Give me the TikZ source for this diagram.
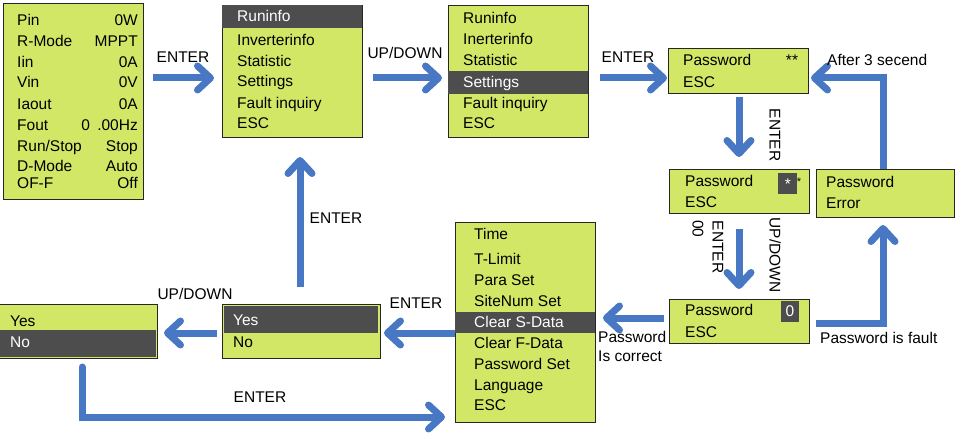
\documentclass[tikz,border=0pt]{standalone}
\usepackage{fontspec}
\setmainfont{Liberation Sans}
\usetikzlibrary{arrows.meta,calc}
\definecolor{lcd}{HTML}{D3E766}
\definecolor{darkband}{HTML}{4D4D4D}
\definecolor{arrblue}{HTML}{4878C4}
\tikzset{
  box/.style={draw=black!85, line width=0.8pt, fill=lcd, inner sep=0pt, outer sep=0pt, anchor=north west},
  txt/.style={anchor=west, inner sep=0pt, font=\fontsize{15.5}{18}\selectfont, text height=11pt, text depth=0pt},
  rtxt/.style={txt, anchor=east},
  lbl/.style={inner sep=0pt, font=\fontsize{15.5}{18}\selectfont, text height=11pt, text depth=0pt},
  wtxt/.style={txt, text=white},
  band/.style={fill=darkband},
  arr/.style={draw=arrblue, line width=7pt, -{Straight Barb[length=13pt,width=24pt,round]}}
}
\begin{document}
\begin{tikzpicture}[x=1pt,y=-1pt]
\useasboundingbox (0,0) rectangle (955,438);
% ---------- boxes ----------
\node[box, minimum width=140, minimum height=196] (b1) at (3,3) {};
\node[box, minimum width=140, minimum height=132] (b2) at (222,5) {};
\node[box, minimum width=140, minimum height=132] (b3) at (448,5) {};
\node[box, minimum width=140, minimum height=45] (b4) at (668,48) {};
\node[box, minimum width=140, minimum height=44] (b5) at (669,169) {};
\node[box, minimum width=138, minimum height=48] (b6) at (816,169) {};
\node[box, minimum width=140, minimum height=44] (b7) at (669,299) {};
\node[box, minimum width=140, minimum height=200] (b8) at (455,222) {};
\node[box, minimum width=158, minimum height=54] (b9) at (222,304) {};
\node[box, minimum width=159, minimum height=54] (b10) at (-2,304) {};
% ---------- bands ----------
\fill[band] (b2.north west) rectangle (b2.east |- 0,28);
\fill[band] (448,71) rectangle (588,94);
\fill[band] (455,312) rectangle (595,333);
\fill[band] (224,306) rectangle (378,333);
\fill[band] (-2,330) rectangle (156,357);
\fill[band] (778,173) rectangle (797,194);
\fill[band] (781,301) rectangle (799,322);
% ---------- box 1 ----------
\node[txt] (p1) at (17,20) {Pin};      \node[rtxt] (v1) at (138,20) {0W};
\node[txt] (p2) at (17,41) {R-Mode};   \node[rtxt] (v2) at (138,41) {MPPT};
\node[txt] (p3) at (17,62) {Iin};      \node[rtxt] (v3) at (138,62) {0A};
\node[txt] (p4) at (17,82) {Vin};      \node[rtxt] (v4) at (138,82) {0V};
\node[txt] (p5) at (17,104) {Iaout};   \node[rtxt] (v5) at (138,104) {0A};
\node[txt] (p6) at (17,125) {Fout};    \node[rtxt] (v6) at (138,125) {0\hspace{3pt} .00Hz};
\node[txt] (p7) at (17,146) {Run/Stop};\node[rtxt] (v7) at (138,146) {Stop};
\node[txt] (p8) at (17,166) {D-Mode};  \node[rtxt] (v8) at (138,166) {Auto};
\node[txt] (p9) at (17,183) {OF-F};    \node[rtxt] (v9) at (138,183) {Off};
% ---------- box 2 ----------
\node[wtxt] (m1) at (237,16) {Runinfo};
\node[txt] (m2) at (237,40) {Inverterinfo};
\node[txt] (m3) at (237,61) {Statistic};
\node[txt] (m4) at (237,81) {Settings};
\node[txt] (m5) at (237,103) {Fault inquiry};
\node[txt] (m6) at (237,123) {ESC};
% ---------- box 3 ----------
\node[txt] (n1) at (463,18) {Runinfo};
\node[txt] (n2) at (463,39) {Inerterinfo};
\node[txt] (n3) at (463,60) {Statistic};
\node[wtxt] (n4) at (463,82) {Settings};
\node[txt] (n5) at (463,103) {Fault inquiry};
\node[txt] (n6) at (463,123) {ESC};
% ---------- box 4 ----------
\node[txt] (q1) at (683,60) {Password};
\node[txt] (q2) at (683,82) {ESC};
\node[lbl] (q3) at (792,60) {**};
% ---------- box 5 ----------
\node[txt] (r1) at (685,181) {Password};
\node[txt] (r2) at (685,202) {ESC};
\node[lbl, text=white] (r3) at (788,184) {*};
\node[lbl, font=\fontsize{11}{12}\selectfont] (r4) at (799,180) {*};
% ---------- box 6 ----------
\node[txt] (s1) at (826,182) {Password};
\node[txt] (s2) at (826,203) {Error};
% ---------- box 7 ----------
\node[txt] (t1) at (685,310) {Password};
\node[txt] (t2) at (685,332) {ESC};
\node[lbl, text=white] (t3) at (790,311) {0};
% ---------- box 8 ----------
\node[txt] (u1) at (474,234) {Time};
\node[txt] (u2) at (474,259) {T-Limit};
\node[txt] (u3) at (474,280) {Para Set};
\node[txt] (u4) at (474,301) {SiteNum Set};
\node[wtxt] (u5) at (474,322) {Clear S-Data};
\node[txt] (u6) at (474,343) {Clear F-Data};
\node[txt] (u7) at (474,364) {Password Set};
\node[txt] (u8) at (474,385) {Language};
\node[txt] (u9) at (474,405) {ESC};
% ---------- box 9 ----------
\node[wtxt] (w1) at (233,320) {Yes};
\node[txt] (w2) at (233,342) {No};
% ---------- box 10 ----------
\node[txt] (x1) at (10,321) {Yes};
\node[wtxt] (x2) at (10,342) {No};
% ---------- arrows ----------
\draw[arr, shorten <=10pt, shorten >=8pt] (b1.east |- 0,78) -- (b2.west |- 0,78);
\draw[arr, shorten <=11pt, shorten >=6pt] (b2.east |- 0,78) -- (b3.west |- 0,78);
\draw[arr, shorten <=12pt, shorten >=1pt] (b3.east |- 0,78) -- (b4.west |- 0,78);
\draw[arr, shorten <=4pt, shorten >=12pt] (739,0 |- b4.south) -- (739,0 |- b5.north);
\draw[arr, shorten <=16pt, shorten >=10pt] (739,0 |- b5.south) -- (739,0 |- b7.north);
\draw[arr, shorten <=5pt, shorten >=8pt] (b7.west |- 0,318) -- (b8.east |- 0,318);
\draw[arr] ($(b7.east |- 0,323)+(7,0)$) -| ($(883,0 |- b6.south)+(0,8)$);
\draw[arr] (883,0 |- b6.north) |- ($(b4.east |- 0,78)+(3,0)$);
\draw[arr, shorten >=4pt] (b8.west |- 0,333) -- (b9.east |- 0,333);
\draw[arr, shorten <=5pt, shorten >=7pt] (b9.west |- 0,333) -- (b10.east |- 0,333);
\draw[arr, line cap=round] ($(82,0 |- b10.south)+(0,9)$) |- ($(b8.west |- 0,417)+(-10,0)$);
\draw[arr] ($(300,0 |- b9.north)+(0,-17)$) -- ($(300,0 |- b2.south)+(0,20)$);
% ---------- labels ----------
\node[lbl] (l1) at (183,57) {ENTER};
\node[lbl] (l2) at (405,53) {UP/DOWN};
\node[lbl] (l3) at (628,57) {ENTER};
\node[lbl, anchor=west] (l4) at (827,60) {After 3 secend};
\node[lbl, rotate=-90] (l5) at (775,135) {ENTER};
\node[lbl, rotate=-90] (l6) at (718,247) {ENTER};
\node[lbl, rotate=-90] (l7) at (698,229) {00};
\node[lbl, rotate=-90] (l8) at (775,255) {UP/DOWN};
\node[lbl, anchor=west] (l9) at (598,337) {Password};
\node[lbl, anchor=west] (l10) at (598,356) {Is correct};
\node[lbl, anchor=west] (l11) at (820,338) {Password is fault};
\node[lbl] (l12) at (416,303) {ENTER};
\node[lbl] (l13) at (195,294) {UP/DOWN};
\node[lbl] (l14) at (260,397) {ENTER};
\node[lbl] (l15) at (336,218) {ENTER};
\end{tikzpicture}
\end{document}
